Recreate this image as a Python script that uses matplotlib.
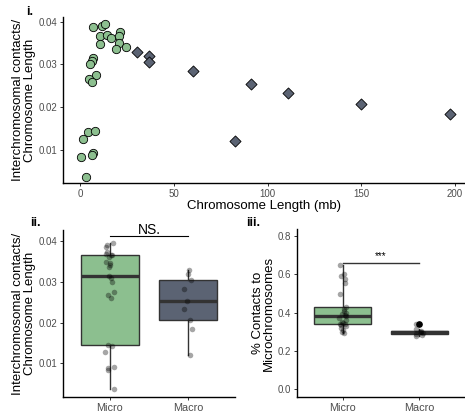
import numpy as np
import matplotlib
matplotlib.use("Agg")
import matplotlib.pyplot as plt

plt.rcParams["font.family"] = ["Liberation Sans", "DejaVu Sans"]

# ---- dados ----
micro_len = [7.1, 11.6, 13.3, 10.7, 14.2, 16.5, 10.7, 21.4, 20.5, 20.5, 19.2, 24.4,
             6.8, 6.2, 5.3, 8.5, 5.0, 6.2, 4.1, 8.0, 1.8, 7.1, 6.2, 0.5, 3.0]
micro_ratio = [0.0387, 0.0391, 0.0395, 0.0367, 0.0370, 0.0362, 0.0348, 0.0375, 0.0366,
               0.0350, 0.0337, 0.0341, 0.0315, 0.0309, 0.0301, 0.0276, 0.0267, 0.0260,
               0.0143, 0.0145, 0.0127, 0.0092, 0.0088, 0.0084, 0.0038]
macro_len = [30.2, 37.0, 36.5, 60.0, 82.7, 91.3, 110.9, 149.9, 197.5]
macro_ratio = [0.0329, 0.0320, 0.0305, 0.0284, 0.0121, 0.0254, 0.0234, 0.0207, 0.0184]

micro_pct = [0.648, 0.600, 0.592, 0.578, 0.555, 0.495, 0.430, 0.420, 0.410, 0.400,
             0.392, 0.385, 0.380, 0.370, 0.360, 0.352, 0.345, 0.340, 0.338, 0.335,
             0.330, 0.320, 0.310, 0.300, 0.295]
macro_pct = [0.338, 0.312, 0.305, 0.300, 0.296, 0.292, 0.288, 0.285, 0.275]

grupos = ["Micro", "Macro"]
verde = "#8cbf8f"
cinza = "#5b6373"
W, H = 465, 413

fig = plt.figure(figsize=(W / 100, H / 100), dpi=100)


def eixo(x0, x1, y0, y1):
    # caixa em pixels (origem no topo)
    return fig.add_axes([x0 / W, 1 - y1 / H, (x1 - x0) / W, (y1 - y0) / H])


def estilo(ax, xsize=7):
    for s in ["top", "right"]:
        ax.spines[s].set_visible(False)
    for s in ["left", "bottom"]:
        ax.spines[s].set_linewidth(1.0)
    ax.tick_params(labelsize=7, labelcolor="#4d4d4d", color="#333333",
                   length=2.5, width=0.7, pad=1.5)
    ax.tick_params(axis="x", labelsize=xsize)


# ----- painel i -----
ax1 = eixo(63, 465, 17, 183)
ax1.scatter(micro_len, micro_ratio, s=36, marker="o", facecolor=verde,
            edgecolor="black", linewidth=0.6, zorder=3)
ax1.scatter(macro_len, macro_ratio, s=32, marker="D", facecolor=cinza,
            edgecolor="black", linewidth=0.6, zorder=3)
ax1.set_xlim(-9.1, 205.3)
ax1.set_ylim(0.0023, 0.0411)
ax1.set_xticks([0, 50, 100, 150, 200])
ax1.set_yticks([0.01, 0.02, 0.03, 0.04])
ax1.set_yticklabels(["0.01", "0.02", "0.03", "0.04"])
estilo(ax1)
ax1.set_xlabel("Chromosome Length (mb)", fontsize=9.5, labelpad=1)
ax1.set_ylabel("Interchromosomal contacts/\nChromosome Length", fontsize=9.5,
               labelpad=2, linespacing=0.95)
fig.text(30 / W, 1 - 12 / H, "i.", fontsize=9, fontweight="bold", ha="center", va="center")

rng = np.random.default_rng(3)


def caixas(ax, dados, cores, whis_list, larg):
    for i, (d, c, wh) in enumerate(zip(dados, cores, whis_list)):
        ax.boxplot([d], positions=[i + 1], widths=larg, patch_artist=True, whis=wh,
                   boxprops=dict(facecolor=c, edgecolor="#333333", linewidth=1.0),
                   medianprops=dict(color="#333333", linewidth=2.4),
                   whiskerprops=dict(color="#333333", linewidth=1.0),
                   capprops=dict(visible=False),
                   flierprops=dict(marker="o", markerfacecolor="black",
                                   markeredgecolor="black", markersize=3.8),
                   zorder=2)
        jit = rng.uniform(-0.06, 0.06, len(d))
        ax.scatter(np.full(len(d), i + 1) + jit, d, s=16, color="black",
                   alpha=0.35, linewidth=0, zorder=3)
    ax.set_xlim(0.4, 2.6)
    ax.set_xticks([1, 2])
    ax.set_xticklabels(grupos)


# ----- painel ii -----
ax2 = eixo(63, 235, 230, 397)
caixas(ax2, [micro_ratio, macro_ratio], [verde, cinza], [1.5, 1.5], 0.75)
ax2.set_ylim(0.00172, 0.0428)
ax2.set_yticks([0.01, 0.02, 0.03, 0.04])
ax2.set_yticklabels(["0.01", "0.02", "0.03", "0.04"])
estilo(ax2, xsize=7.8)
ax2.set_ylabel("Interchromosomal contacts/\nChromosome Length", fontsize=9.5,
               labelpad=2, linespacing=0.95)
ax2.plot([1, 2], [0.0414, 0.0414], color="black", linewidth=0.8)
ax2.text(1.5, 0.0411, "NS.", fontsize=10, ha="center", va="bottom")
fig.text(35 / W, 1 - 223 / H, "ii.", fontsize=9, fontweight="bold", ha="center", va="center")

# ----- painel iii -----
ax3 = eixo(297, 465, 229, 397)
caixas(ax3, [micro_pct, macro_pct], [verde, cinza], [(0, 100), 1.5], 0.75)
ax3.set_ylim(-0.042, 0.837)
ax3.set_yticks([0.0, 0.2, 0.4, 0.6, 0.8])
ax3.set_yticklabels(["0.0", "0.2", "0.4", "0.6", "0.8"])
estilo(ax3, xsize=7.8)
ax3.set_ylabel("% Contacts to\nMicrochromosomes", fontsize=9.5, labelpad=2,
               linespacing=0.95)
ax3.plot([1, 2], [0.657, 0.657], color="#333333", linewidth=1.0)
ax3.text(1.5, 0.668, "***", fontsize=7, ha="center", va="bottom")
fig.text(253 / W, 1 - 223 / H, "iii.", fontsize=9, fontweight="bold", ha="center", va="center")

fig.savefig("out.png", dpi=100)
